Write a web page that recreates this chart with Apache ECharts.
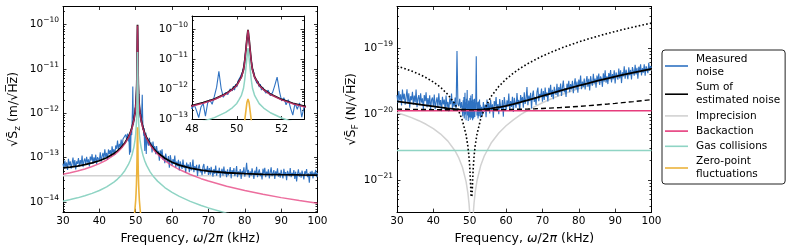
<!DOCTYPE html>
<html><head><meta charset="utf-8">
<script src="https://cdn.jsdelivr.net/npm/echarts@6/dist/echarts.min.js"></script>
<style>html,body{margin:0;padding:0;background:#fff}#c{width:793px;height:250px}</style>
</head><body><div id="c"></div>
<script>
// ---------- DATA ----------
const freqEdges = [30, 100];
const freqModel = [30,32,34,36,38,40,42,44,45,46,47,48,48.5,49,49.5,49.8,50,50.1,50.2,50.3,50.35,50.4,50.45,50.5,50.55,50.6,50.65,50.7,50.8,50.9,51,51.2,51.5,52,52.5,53,54,55,56,58,60,62,65,68,70,75,80,85,90,95,100];
const imprecisionZ = [3.9e-14, 3.9e-14];
const backactionZ = [4.20e-14,4.54e-14,4.97e-14,5.53e-14,6.26e-14,7.29e-14,8.81e-14,1.128e-13,1.319e-13,1.596e-13,2.03e-13,2.81e-13,3.50e-13,4.64e-13,6.93e-13,9.87e-13,1.38e-12,1.85e-12,2.5e-12,4.5e-12,8.0e-12,1.8e-11,4.5e-11,9.5e-11,4.5e-11,1.8e-11,8.0e-12,4.5e-12,2.5e-12,1.85e-12,1.366e-12,9.73e-13,6.79e-13,4.51e-13,3.36e-13,2.68e-13,1.895e-13,1.46e-13,1.183e-13,8.52e-14,6.60e-14,5.36e-14,4.14e-14,3.34e-14,2.95e-14,2.25e-14,1.80e-14,1.48e-14,1.249e-14,1.070e-14,9.30e-15];
const gasZ = [1.04e-14,1.127e-14,1.234e-14,1.371e-14,1.555e-14,1.81e-14,2.19e-14,2.80e-14,3.27e-14,3.96e-14,5.04e-14,6.98e-14,8.69e-14,1.152e-13,1.72e-13,2.45e-13,3.42e-13,4.6e-13,6.2e-13,1.1e-12,2.0e-12,4.5e-12,1.1e-11,2.4e-11,1.1e-11,4.5e-12,2.0e-12,1.1e-12,6.2e-13,4.6e-13,3.39e-13,2.41e-13,1.68e-13,1.12e-13,8.33e-14,6.65e-14,4.70e-14,3.62e-14,2.94e-14,2.11e-14,1.64e-14,1.33e-14,1.03e-14,8.29e-15,7.32e-15,5.59e-15,4.47e-15,3.68e-15,3.10e-15,2.66e-15,2.31e-15];
const zeroPointZ = [null,null,null,null,null,null,null,null,null,null,null,null,null,null,4e-15,7e-15,1.1e-14,1.6e-14,2.5e-14,5e-14,9e-14,1.8e-13,3.6e-13,4.8e-13,3.6e-13,1.8e-13,9e-14,5e-14,2.5e-14,1.6e-14,1.1e-14,7e-15,4e-15,null,null,null,null,null,null,null,null,null,null,null,null,null,null,null,null,null,null];
const sumZ = [5.83e-14,6.09e-14,6.44e-14,6.90e-14,7.54e-14,8.46e-14,9.88e-14,1.226e-13,1.414e-13,1.69e-13,2.128e-13,2.92e-13,3.63e-13,4.80e-13,7.15e-13,1.018e-12,1.421e-12,1.91e-12,2.58e-12,4.63e-12,8.25e-12,1.855e-11,4.63e-11,9.8e-11,4.63e-11,1.855e-11,8.25e-12,4.63e-12,2.58e-12,1.91e-12,1.408e-12,1.003e-12,7.0e-13,4.66e-13,3.48e-13,2.79e-13,1.991e-13,1.554e-13,1.28e-13,9.60e-14,7.84e-14,6.76e-14,5.78e-14,5.20e-14,4.94e-14,4.54e-14,4.32e-14,4.19e-14,4.11e-14,4.05e-14,4.02e-14];

const freqMeasured = [30,30.25,30.5,30.75,31,31.25,31.5,31.75,32,32.25,32.5,32.75,33,33.25,33.5,33.75,34,34.25,34.5,34.75,35,35.25,35.5,35.75,36,36.25,36.5,36.75,37,37.25,37.5,37.75,38,38.25,38.5,38.75,39,39.25,39.5,39.75,40,40.25,40.5,40.75,41,41.25,41.5,41.75,42,42.25,42.5,42.75,43,43.25,43.5,43.75,44,44.25,44.5,44.75,45,45.25,45.5,45.75,46,46.25,46.5,46.75,47,47.25,47.5,47.75,
48,48.1,48.2,48.3,48.4,48.5,48.6,48.7,48.8,48.9,49,49.1,49.2,49.3,49.4,49.5,49.6,49.7,49.8,
49.85,49.9,49.95,50,50.05,50.1,50.15,50.2,50.25,50.3,50.35,50.4,50.45,50.5,50.55,50.6,50.65,50.7,50.75,50.8,50.85,50.9,50.95,51,51.05,51.1,51.15,
51.2,51.3,51.4,51.5,51.6,51.7,51.8,51.9,52,52.1,52.2,52.3,52.4,52.5,52.6,52.7,52.8,52.9,53,
53.25,53.5,53.75,54,54.25,54.5,54.75,55,55.25,55.5,55.75,56,56.25,56.5,56.75,57,57.25,57.5,57.75,58,58.25,58.5,58.75,59,59.25,59.5,59.75,60,60.25,60.5,60.75,61,61.25,61.5,61.75,62,62.25,62.5,62.75,63,63.25,63.5,63.75,64,64.25,64.5,64.75,65,65.25,65.5,65.75,66,66.25,66.5,66.75,67,67.25,67.5,67.75,68,68.25,68.5,68.75,69,69.25,69.5,69.75,70,
70.25,70.5,70.75,71,71.25,71.5,71.75,72,72.25,72.5,72.75,73,73.25,73.5,73.75,74,74.25,74.5,74.75,75,75.25,75.5,75.75,76,76.25,76.5,76.75,77,77.25,77.5,77.75,78,78.25,78.5,78.75,79,79.25,79.5,79.75,80,
80.25,80.5,80.75,81,81.25,81.5,81.75,82,82.25,82.5,82.75,83,83.25,83.5,83.75,84,84.25,84.5,84.75,85,85.25,85.5,85.75,86,86.25,86.5,86.75,87,87.25,87.5,87.75,88,88.25,88.5,88.75,89,89.25,89.5,89.75,90,
90.25,90.5,90.75,91,91.25,91.5,91.75,92,92.25,92.5,92.75,93,93.25,93.5,93.75,94,94.25,94.5,94.75,95,95.25,95.5,95.75,96,96.25,96.5,96.75,97,97.25,97.5,97.75,98,98.25,98.5,98.75,99,99.25,99.5,99.75,100];
const measuredZ = [
7.29e-14,5.57e-14,8.54e-14,6.22e-14,7.75e-14,5.27e-14,9.33e-14,6.66e-14,8.22e-14,5.64e-14,7.42e-14,9.95e-14,6.26e-14,8.82e-14,5.40e-14,8.19e-14,7.21e-14,9.75e-14,6.29e-14,8.78e-14,
6.99e-14,1.11e-13,6.10e-14,8.34e-14,9.52e-14,6.83e-14,1.04e-13,7.70e-14,9.08e-14,6.27e-14,1.05e-13,8.57e-14,1.19e-13,7.19e-14,1.01e-13,8.03e-14,1.16e-13,7.21e-14,1.02e-13,1.13e-13,
8.46e-14,1.31e-13,8.10e-14,1.06e-13,1.28e-13,9.04e-14,1.54e-13,1.03e-13,1.27e-13,8.89e-14,1.52e-13,1.20e-13,1.47e-13,1.05e-13,1.80e-13,1.24e-13,1.54e-13,1.14e-13,1.87e-13,1.58e-13,
2.40e-13,1.44e-13,2.03e-13,1.74e-13,2.54e-13,1.69e-13,2.61e-13,2.40e-13,2.39e-13,3.31e-13,2.57e-13,3.45e-13,
2.3e-13,3.1e-13,2.0e-13,1.15e-13,2.6e-13,3.4e-13,1.3e-13,3.6e-13,4.5e-13,3.2e-13,6.0e-13,1.2e-12,4.0e-12,1.1e-12,5.5e-13,8.0e-13,6.8e-13,1.05e-12,9.0e-13,
1.3e-12,9.5e-13,1.5e-12,1.2e-12,1.9e-12,1.7e-12,2.6e-12,2.9e-12,3.8e-12,5.5e-12,1.0e-11,2.0e-11,4.5e-11,8.5e-11,4.2e-11,1.7e-11,9.0e-12,5.0e-12,3.9e-12,2.4e-12,2.7e-12,1.6e-12,1.9e-12,1.2e-12,1.5e-12,9.5e-13,1.2e-12,
1.1e-12,7.5e-13,9.5e-13,6.2e-13,8.0e-13,1.4e-12,2.6e-12,9.0e-13,4.2e-13,5.3e-13,3.1e-13,4.6e-13,2.4e-13,1.4e-13,3.5e-13,2.2e-13,3.6e-13,1.2e-13,2.6e-13,
2.81e-13,1.86e-13,2.80e-13,1.83e-13,2.19e-13,1.31e-13,2.30e-13,1.55e-13,1.80e-13,1.19e-13,1.81e-13,1.22e-13,1.41e-13,8.50e-14,1.45e-13,1.14e-13,1.53e-13,8.98e-14,1.11e-13,7.49e-14,
1.23e-13,9.07e-14,7.96e-14,1.08e-13,5.88e-14,1.13e-13,8.66e-14,6.59e-14,9.22e-14,7.22e-14,1.11e-13,5.94e-14,8.11e-14,6.42e-14,8.93e-14,5.14e-14,8.25e-14,6.68e-14,5.55e-14,9.03e-14,
5.90e-14,6.82e-14,4.53e-14,7.73e-14,5.97e-14,6.96e-14,4.67e-14,7.86e-14,5.15e-14,6.00e-14,8.96e-14,4.66e-14,6.38e-14,5.19e-14,6.82e-14,3.87e-14,5.96e-14,6.97e-14,4.61e-14,5.41e-14,
4.02e-14,6.26e-14,7.13e-14,4.35e-14,5.53e-14,4.91e-14,6.46e-14,4.05e-14,
5.8e-14,4.1e-14,6.2e-14,4.6e-14,3.7e-14,5.5e-14,4.3e-14,6.6e-14,3.9e-14,5.1e-14,4.4e-14,5.9e-14,3.5e-14,4.8e-14,5.6e-14,3.9e-14,6.3e-14,4.2e-14,5.0e-14,3.6e-14,
5.4e-14,4.0e-14,4.7e-14,6.1e-14,3.4e-14,5.2e-14,4.3e-14,5.8e-14,3.8e-14,4.6e-14,6.4e-14,3.6e-14,4.9e-14,4.1e-14,5.5e-14,3.3e-14,5.0e-14,4.4e-14,6.0e-14,3.7e-14,
4.8e-14,7.6e-14,4.2e-14,5.3e-14,3.5e-14,4.9e-14,3.9e-14,5.7e-14,4.4e-14,3.3e-14,5.1e-14,4.0e-14,6.2e-14,3.6e-14,4.7e-14,5.4e-14,3.8e-14,4.5e-14,3.2e-14,5.6e-14,
4.3e-14,5.9e-14,3.6e-14,4.8e-14,4.0e-14,5.4e-14,3.4e-14,4.6e-14,6.0e-14,3.8e-14,4.4e-14,5.2e-14,3.3e-14,4.9e-14,4.1e-14,5.7e-14,3.7e-14,4.5e-14,3.5e-14,5.3e-14,
4.2e-14,3.4e-14,5.6e-14,4.0e-14,4.7e-14,3.1e-14,5.0e-14,4.4e-14,3.8e-14,5.8e-14,3.6e-14,4.5e-14,4.0e-14,5.2e-14,3.3e-14,4.8e-14,2.9e-14,4.3e-14,5.4e-14,3.7e-14,
4.6e-14,3.5e-14,5.1e-14,4.1e-14,3.2e-14,4.9e-14,4.3e-14,5.5e-14,3.6e-14,4.4e-14,2.7e-14,4.8e-14,3.9e-14,5.0e-14,3.4e-14,4.6e-14,4.0e-14,5.3e-14,3.6e-14,4.5e-14];
const measuredF = [
1.94e-20,1.47e-20,2.23e-20,1.61e-20,1.99e-20,1.34e-20,2.35e-20,1.66e-20,2.03e-20,1.38e-20,1.79e-20,2.37e-20,1.48e-20,2.06e-20,1.24e-20,1.86e-20,1.62e-20,2.17e-20,1.38e-20,1.90e-20,
1.50e-20,2.34e-20,1.27e-20,1.71e-20,1.93e-20,1.36e-20,2.05e-20,1.49e-20,1.73e-20,1.17e-20,1.93e-20,1.56e-20,2.13e-20,1.26e-20,1.74e-20,1.36e-20,1.92e-20,1.17e-20,1.63e-20,1.78e-20,
1.30e-20,1.97e-20,1.18e-20,1.51e-20,1.79e-20,1.23e-20,2.05e-20,1.34e-20,1.62e-20,1.10e-20,1.82e-20,1.39e-20,1.65e-20,1.14e-20,1.90e-20,1.27e-20,1.52e-20,1.09e-20,1.73e-20,1.40e-20,
2.04e-20,1.17e-20,1.57e-20,1.29e-20,1.78e-20,1.12e-20,9.0e-20,1.41e-20,1.31e-20,1.70e-20,1.23e-20,1.52e-20,
1.45e-20,0.92e-20,1.62e-20,1.05e-20,1.80e-20,0.85e-20,1.35e-20,2.10e-20,0.98e-20,1.50e-20,0.80e-20,1.70e-20,1.25e-20,2.30e-20,0.95e-20,1.40e-20,0.78e-20,1.60e-20,1.10e-20,
1.55e-20,0.88e-20,1.30e-20,0.95e-20,1.75e-20,1.05e-20,0.82e-20,1.45e-20,1.12e-20,1.90e-20,0.90e-20,1.30e-20,1.05e-20,1.60e-20,0.86e-20,1.35e-20,1.00e-20,2.00e-20,1.15e-20,0.80e-20,1.42e-20,1.08e-20,1.65e-20,0.92e-20,1.28e-20,0.85e-20,1.50e-20,
1.05e-20,1.70e-20,0.90e-20,1.40e-20,1.15e-20,2.2e-20,7.5e-20,1.8e-20,0.95e-20,1.50e-20,1.10e-20,0.85e-20,1.55e-20,1.20e-20,0.92e-20,1.65e-20,1.02e-20,1.38e-20,0.88e-20,
1.28e-20,0.94e-20,1.52e-20,1.08e-20,1.39e-20,0.89e-20,1.66e-20,1.19e-20,1.46e-20,1.02e-20,1.63e-20,1.15e-20,1.40e-20,0.88e-20,1.57e-20,1.30e-20,1.80e-20,1.10e-20,1.41e-20,0.99e-20,
1.68e-20,1.28e-20,1.16e-20,1.62e-20,0.91e-20,1.81e-20,1.43e-20,1.12e-20,1.61e-20,1.30e-20,2.04e-20,1.12e-20,1.57e-20,1.28e-20,1.82e-20,1.07e-20,1.76e-20,1.46e-20,1.24e-20,2.07e-20,
1.38e-20,1.63e-20,1.11e-20,1.93e-20,1.52e-20,1.81e-20,1.24e-20,2.13e-20,1.42e-20,1.69e-20,2.57e-20,1.36e-20,1.90e-20,1.57e-20,2.10e-20,1.21e-20,1.90e-20,2.26e-20,1.52e-20,1.81e-20,
1.37e-20,2.17e-20,2.51e-20,1.56e-20,2.01e-20,1.81e-20,2.42e-20,1.54e-20,
2.23e-20,1.63e-20,2.51e-20,1.81e-20,2.12e-20,1.55e-20,2.50e-20,1.96e-20,2.77e-20,1.81e-20,2.33e-20,1.68e-20,2.58e-20,2.18e-20,1.94e-20,2.87e-20,1.84e-20,2.55e-20,2.12e-20,2.89e-20,
1.87e-20,2.53e-20,3.20e-20,2.13e-20,2.47e-20,1.81e-20,2.88e-20,2.42e-20,3.18e-20,2.14e-20,2.83e-20,2.36e-20,3.19e-20,2.07e-20,2.78e-20,3.48e-20,2.36e-20,3.09e-20,2.10e-20,3.33e-20,
2.65e-20,3.82e-20,2.37e-20,3.11e-20,2.58e-20,3.45e-20,2.36e-20,3.04e-20,3.76e-20,2.60e-20,3.41e-20,2.28e-20,3.74e-20,3.05e-20,2.68e-20,4.08e-20,2.90e-20,3.43e-20,2.51e-20,3.83e-20,
3.06e-20,4.11e-20,2.75e-20,3.72e-20,3.39e-20,2.58e-20,4.14e-20,3.10e-20,4.61e-20,2.97e-20,3.72e-20,2.84e-20,4.16e-20,3.42e-20,4.65e-20,3.00e-20,4.03e-20,3.37e-20,4.60e-20,2.91e-20,
4.26e-20,3.81e-20,3.31e-20,4.89e-20,3.47e-20,4.61e-20,2.94e-20,4.29e-20,3.73e-20,5.30e-20,3.43e-20,4.69e-20,4.04e-20,3.38e-20,5.12e-20,3.88e-20,4.65e-20,3.34e-20,5.14e-20,4.45e-20,
3.80e-20,5.59e-20,3.98e-20,5.01e-20,3.42e-20,5.21e-20,4.35e-20,5.68e-20,3.83e-20,4.94e-20,4.24e-20,5.65e-20,3.79e-20,5.30e-20,4.77e-20,4.15e-20,5.97e-20,4.53e-20,5.33e-20,5.03e-20];

const freqForce = [30,32,34,36,38,40,42,44,46,47,48,49,49.5,49.8,50,50.2,50.35,50.5,50.65,50.8,51,51.2,51.5,52,53,54,56,58,60,62,64,66,68,70,72,75,78,80,82,85,88,90,92,95,98,100];
const backactionF = [1.12e-20, 1.12e-20];
const gasF = [2.78e-21, 2.78e-21];
const imprecisionF = [1.040e-20,0.962e-20,0.878e-20,0.790e-20,0.697e-20,0.599e-20,0.495e-20,0.387e-20,0.274e-20,0.215e-20,0.155e-20,0.0940e-20,0.0630e-20,0.0442e-20,0.0317e-20,0.0190e-20,0.0095e-20,0.001e-20,0.0096e-20,0.0191e-20,0.0320e-20,0.0449e-20,0.0643e-20,0.0969e-20,0.163e-20,0.230e-20,0.369e-20,0.513e-20,0.661e-20,0.815e-20,0.974e-20,1.138e-20,1.306e-20,1.480e-20,1.659e-20,1.937e-20,2.226e-20,2.425e-20,2.629e-20,2.945e-20,3.272e-20,3.496e-20,3.726e-20,4.079e-20,4.444e-20,4.693e-20];
const dottedF = [5.30e-20,4.90e-20,4.48e-20,4.03e-20,3.55e-20,3.05e-20,2.53e-20,1.97e-20,1.40e-20,1.10e-20,0.791e-20,0.480e-20,0.321e-20,0.226e-20,0.162e-20,0.097e-20,0.060e-20,0.055e-20,0.060e-20,0.098e-20,0.163e-20,0.229e-20,0.328e-20,0.494e-20,0.832e-20,1.175e-20,1.88e-20,2.62e-20,3.37e-20,4.16e-20,4.97e-20,5.80e-20,6.66e-20,7.55e-20,8.46e-20,9.88e-20,11.35e-20,12.37e-20,13.41e-20,15.02e-20,16.69e-20,17.83e-20,19.00e-20,20.80e-20,22.66e-20,23.93e-20];
const dashedF = [1.183e-20,1.178e-20,1.174e-20,1.171e-20,1.167e-20,1.163e-20,1.160e-20,1.157e-20,1.156e-20,1.155e-20,1.154e-20,1.154e-20,1.154e-20,1.154e-20,1.154e-20,1.154e-20,1.154e-20,1.154e-20,1.154e-20,1.154e-20,1.154e-20,1.154e-20,1.154e-20,1.154e-20,1.154e-20,1.156e-20,1.157e-20,1.161e-20,1.165e-20,1.172e-20,1.179e-20,1.188e-20,1.199e-20,1.212e-20,1.226e-20,1.251e-20,1.281e-20,1.303e-20,1.328e-20,1.369e-20,1.414e-20,1.447e-20,1.483e-20,1.540e-20,1.602e-20,1.646e-20];
const sumF = [1.553e-20,1.502e-20,1.450e-20,1.398e-20,1.348e-20,1.300e-20,1.255e-20,1.217e-20,1.186e-20,1.174e-20,1.164e-20,1.157e-20,1.155e-20,1.154e-20,1.154e-20,1.154e-20,1.154e-20,1.154e-20,1.154e-20,1.154e-20,1.154e-20,1.155e-20,1.156e-20,1.158e-20,1.165e-20,1.176e-20,1.211e-20,1.263e-20,1.330e-20,1.412e-20,1.510e-20,1.621e-20,1.743e-20,1.876e-20,2.021e-20,2.255e-20,2.507e-20,2.686e-20,2.871e-20,3.163e-20,3.469e-20,3.681e-20,3.901e-20,4.239e-20,4.591e-20,4.833e-20];

const ticksZ = [1e-14, 1e-13, 1e-12, 1e-11, 1e-10];
const ticksInset = [1e-13, 1e-12, 1e-11, 1e-10];
const ticksF = [1e-21, 1e-20, 1e-19];
const ticksInsetX = [48, 50, 52];
const legendNames = ['Measured noise', 'Sum of estimated noise', 'Imprecision', 'Backaction', 'Gas collisions', 'Zero-point fluctuations'];
const legendLabels = {'Measured noise': 'Measured\nnoise', 'Sum of estimated noise': 'Sum of\nestimated noise', 'Imprecision': 'Imprecision', 'Backaction': 'Backaction', 'Gas collisions': 'Gas collisions', 'Zero-point fluctuations': 'Zero-point\nfluctuations'};

// ---------- STYLE ----------
const FONT = 'DejaVu Sans';
const C = {blue: '#2f72c2', black: '#000000', gray: '#d2d2d2', pink: '#e63c7c', teal: '#8fd4c4', orange: '#ecb33c'};

function minorTicks(lo, hi) {
  const out = [];
  for (let e = Math.floor(Math.log10(lo)) - 1; e <= Math.ceil(Math.log10(hi)); e++) {
    for (let m = 2; m <= 9; m++) { const v = m * Math.pow(10, e); if (v > lo && v < hi) out.push(v); }
  }
  return out;
}
function logLabel(v) {
  const e = Math.round(Math.log10(v));
  return '{b|10}{s|' + (e < 0 ? '\u2212' : '') + Math.abs(e) + '}';
}
const richLog = {
  b: {fontSize: 10.5, fontFamily: FONT, color: '#000', lineHeight: 16},
  s: {fontSize: 7.5, fontFamily: FONT, color: '#000', lineHeight: 9, verticalAlign: 'top'}
};
const tickStyle = {color: '#000', width: 0.8};
function xAxes(grid, min, max, interval, z, withName, custom) {
  const base = {type: 'value', gridIndex: grid, min: min, max: max, interval: interval, z: z,
    splitLine: {show: false},
    axisLine: {show: true, onZero: false, lineStyle: {color: '#000', width: 1}},
    axisTick: {show: true, inside: true, length: 3.5, lineStyle: tickStyle}};
  if (custom) base.axisTick.customValues = custom;
  const lbl = {show: true, margin: 4, fontSize: 10.5, fontFamily: FONT, color: '#000'};
  if (custom) lbl.customValues = custom;
  const bottom = Object.assign({}, base, {position: 'bottom', axisLabel: lbl});
  if (withName) Object.assign(bottom, {name: 'Frequency, {i|ω}/2{i|π} (kHz)', nameLocation: 'middle', nameGap: 16,
    nameTextStyle: {fontSize: 12.5, fontFamily: FONT, color: '#000', rich: {i: {fontSize: 12.5, fontFamily: FONT, fontStyle: 'italic', color: '#000'}}}});
  const top = Object.assign({}, base, {position: 'top', axisLabel: {show: false}});
  return [bottom, top];
}
function yAxes(grid, min, max, majors, z, name, nameGap) {
  const base = {type: 'log', logBase: 10, gridIndex: grid, min: min, max: max, z: z, splitLine: {show: false}};
  const minors = minorTicks(min, max);
  const left = Object.assign({}, base, {position: 'left',
    axisLine: {show: true, onZero: false, lineStyle: {color: '#000', width: 1}},
    axisTick: {show: true, inside: true, length: 3.5, lineStyle: tickStyle, customValues: majors},
    axisLabel: {show: true, margin: 4, customValues: majors, formatter: logLabel, rich: richLog}});
  if (name) Object.assign(left, {name: name, nameLocation: 'middle', nameRotate: 90, nameGap: nameGap,
    nameTextStyle: {fontSize: 12.5, fontFamily: FONT, color: '#000', lineHeight: 16,
      rich: {sub: {fontSize: 9, fontFamily: FONT, color: '#000', lineHeight: 10, verticalAlign: 'bottom'}}}});
  const right = Object.assign({}, base, {position: 'right',
    axisLine: {show: true, onZero: false, lineStyle: {color: '#000', width: 1}},
    axisTick: {show: true, inside: true, length: 3.5, lineStyle: tickStyle, customValues: majors},
    axisLabel: {show: false}});
  const lm = Object.assign({}, base, {position: 'left', axisLine: {show: false},
    axisTick: {show: true, inside: true, length: 2, lineStyle: tickStyle, customValues: minors}, axisLabel: {show: false}});
  const rm = Object.assign({}, base, {position: 'right', axisLine: {show: false},
    axisTick: {show: true, inside: true, length: 2, lineStyle: tickStyle, customValues: minors}, axisLabel: {show: false}});
  return [left, right, lm, rm];
}
function pairs(xs, ys) { return xs.map((x, i) => [x, ys[i]]); }
function line(name, xi, yi, xs, ys, color, width, extra) {
  return Object.assign({type: 'line', name: name, xAxisIndex: xi, yAxisIndex: yi, data: pairs(xs, ys),
    showSymbol: false, symbol: 'none', clip: true, animation: false,
    lineStyle: {color: color, width: width}, itemStyle: {color: color}, emphasis: {disabled: true}}, extra || {});
}

const zMinMain = 5.89e-15, zMaxMain = 2.54e-10;
const zMinIn = 1e-13, zMaxIn = 2.82e-10;
const fMin = 3.24e-22, fMax = 4.27e-19;
const pinkStyle = {color: C.pink, width: 1.5, opacity: 0.75};

const option = {
  animation: false,
  backgroundColor: '#fff',
  grid: [
    {left: 63, top: 6.5, width: 254.5, height: 206},
    {left: 192, top: 16, width: 112, height: 103.5, z: 10, show: true, backgroundColor: '#fff', borderWidth: 0},
    {left: 397, top: 6.5, width: 254.5, height: 206}
  ],
  xAxis: [].concat(xAxes(0, 30, 100, 10, 0, true), xAxes(1, 48, 53, 2, 12, false, ticksInsetX), xAxes(2, 30, 100, 10, 0, true)),
  yAxis: [].concat(
    yAxes(0, zMinMain, zMaxMain, ticksZ, 0, '√S\u0304{sub|z} (m/√H\u0305z\u0305)', 41),
    yAxes(1, zMinIn, zMaxIn, ticksInset, 12, null, 0),
    yAxes(2, fMin, fMax, ticksF, 0, '√S\u0304{sub|F} (N/√H\u0305z\u0305)', 37)),
  legend: {
    orient: 'vertical', left: 662, top: 50, itemWidth: 23, itemHeight: 1.6, itemGap: 2.2, icon: 'rect',
    padding: [3, 5, 3, 3], borderColor: '#222', borderWidth: 1, borderRadius: 3, backgroundColor: '#fff',
    selectedMode: false, data: legendNames,
    formatter: n => legendLabels[n],
    textStyle: {fontFamily: FONT, fontSize: 10.5, lineHeight: 13, color: '#000', padding: [0, 0, 0, 3]}
  },
  series: [
    // main displacement panel
    line('Imprecision', 0, 0, freqEdges, imprecisionZ, C.gray, 1.5),
    line('Measured noise', 0, 0, freqMeasured, measuredZ, C.blue, 1.1),
    line('Sum of estimated noise', 0, 0, freqModel, sumZ, C.black, 1.8),
    line('Backaction', 0, 0, freqModel, backactionZ, C.pink, 1.5, {lineStyle: pinkStyle}),
    line('Gas collisions', 0, 0, freqModel, gasZ, C.teal, 1.5),
    line('Zero-point fluctuations', 0, 0, freqModel, zeroPointZ, C.orange, 1.6),
    // inset
    line('Measured noise', 2, 4, freqMeasured, measuredZ, C.blue, 1.1, {z: 12}),
    line('Sum of estimated noise', 2, 4, freqModel, sumZ, C.black, 1.8, {z: 12}),
    line('Backaction', 2, 4, freqModel, backactionZ, C.pink, 1.5, {z: 12, lineStyle: pinkStyle}),
    line('Gas collisions', 2, 4, freqModel, gasZ, C.teal, 1.5, {z: 12}),
    line('Zero-point fluctuations', 2, 4, freqModel, zeroPointZ, C.orange, 1.6, {z: 12}),
    // force panel
    line('Imprecision', 4, 8, freqForce, imprecisionF, C.gray, 1.5),
    line('Measured noise', 4, 8, freqMeasured, measuredF, C.blue, 1.1),
    line('Sum of estimated noise', 4, 8, freqForce, sumF, C.black, 1.8),
    line('Backaction', 4, 8, freqEdges, backactionF, C.pink, 1.5),
    line('Gas collisions', 4, 8, freqEdges, gasF, C.teal, 1.5),
    line('dashed', 4, 8, freqForce, dashedF, C.black, 1.4, {lineStyle: {color: '#000', width: 1.4, type: [5, 3]}}),
    line('dotted', 4, 8, freqForce, dottedF, C.black, 1.6, {lineStyle: {color: '#000', width: 1.6, type: [1.6, 2.2]}})
  ]
};
const chart = echarts.init(document.getElementById('c'), null, {renderer: 'canvas'});
chart.setOption(option);
</script>
</body></html>
